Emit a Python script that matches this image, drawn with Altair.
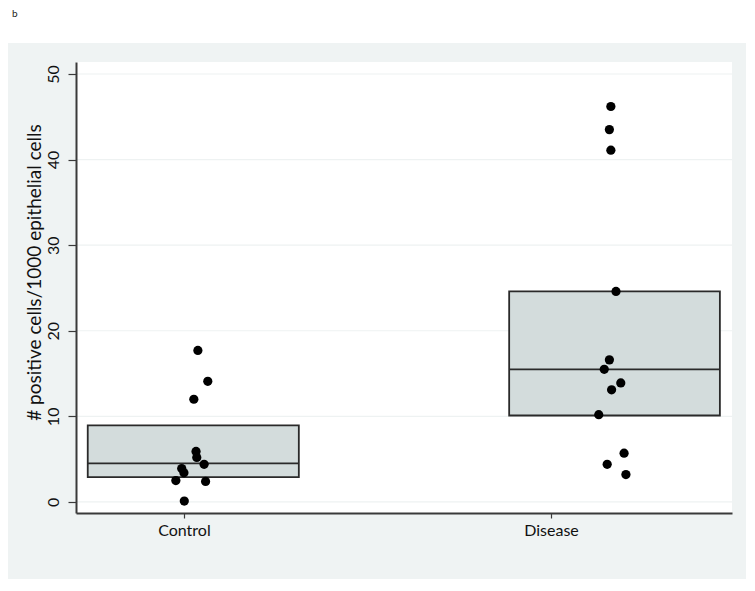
import altair as alt
import pandas as pd

# ---- data ----
categories = ["Control", "Disease"]
category_pos = [0, 1]

# box extents (x in category units, y in cells/1000)
box_left = [-0.262, 0.886]
box_right = [0.313, 1.460]
box_q1 = [2.9, 10.1]
box_median = [4.5, 15.5]
box_q3 = [8.95, 24.6]

control_y = [17.7, 14.1, 12.0, 5.9, 5.2, 4.4, 3.9, 3.4, 2.5, 2.4, 0.1]
control_x = [0.038, 0.065, 0.027, 0.033, 0.035, 0.055, -0.006, 0.0, -0.022, 0.059, 0.001]
disease_y = [46.2, 43.5, 41.1, 24.6, 16.6, 15.5, 13.9, 13.1, 10.2, 5.7, 4.4, 3.2]
disease_x = [1.163, 1.159, 1.163, 1.177, 1.159, 1.145, 1.190, 1.165, 1.130, 1.199, 1.153, 1.204]

y_ticks = [0, 10, 20, 30, 40, 50]
y_title = "# positive cells/1000 epithelial cells"
panel_label = "b"

# ---- tables ----
boxes = pd.DataFrame({
    "group": categories, "lo": box_left, "hi": box_right,
    "q1": box_q1, "med": box_median, "q3": box_q3,
})
points = pd.DataFrame({
    "group": ["Control"] * len(control_y) + ["Disease"] * len(disease_y),
    "x": control_x + disease_x,
    "y": control_y + disease_y,
})
grid = pd.DataFrame({"v": y_ticks})
one = pd.DataFrame({"t": [panel_label]})

W, H = 656, 451
FONT = "Lato"
xs = alt.Scale(domain=[-0.294, 1.493], nice=False, zero=False)
ys = alt.Scale(domain=[-1.29, 51.4], nice=False, zero=False)

label_expr = "[" + ",".join(f"'{c}'" for c in categories) + "][datum.value]"

xaxis = alt.Axis(
    values=category_pos, labelExpr=label_expr, title=None, grid=False,
    tickSize=5, tickWidth=1.2, tickColor="#3a3a3a",
    domainColor="#3a3a3a", domainWidth=2,
    labelFont=FONT, labelFontSize=16, labelColor="#111111", labelPadding=4,
    zindex=1,
)
yaxis = alt.Axis(
    values=y_ticks, title=y_title, grid=False,
    tickSize=8, tickWidth=1.2, tickColor="#3a3a3a",
    domainColor="#3a3a3a", domainWidth=2,
    labelFont=FONT, labelFontSize=16, labelColor="#111111",
    labelAngle=270, labelAlign="center", labelBaseline="bottom", labelPadding=7,
    titleFont=FONT, titleFontSize=19, titleFontWeight="normal", titleColor="#111111",
    titleAngle=270, titleAlign="center", titleBaseline="middle",
    titleX=-42, titleY=210,
    zindex=1,
)

panel = alt.Chart(one).mark_rect(color="#eff3f3").encode(
    x=alt.value(-72), x2=alt.value(672), y=alt.value(-19), y2=alt.value(524)
)
plot_bg = alt.Chart(one).mark_rect(color="#ffffff").encode(
    x=alt.value(0), x2=alt.value(W), y=alt.value(0), y2=alt.value(H)
)
grid_rules = alt.Chart(grid).mark_rule(color="#eef2f2", strokeWidth=1.2).encode(
    x=alt.value(0), x2=alt.value(W),
    y=alt.Y("v:Q", scale=ys, axis=yaxis),
)
box_rects = alt.Chart(boxes).mark_rect(
    fill="#d3dcdc", stroke="#2a2a2a", strokeWidth=1.8
).encode(
    x=alt.X("lo:Q", scale=xs, axis=xaxis),
    x2="hi:Q",
    y=alt.Y("q1:Q", scale=ys, axis=yaxis),
    y2="q3:Q",
)
medians = alt.Chart(boxes).mark_rule(color="#2a2a2a", strokeWidth=1.8).encode(
    x=alt.X("lo:Q", scale=xs, axis=xaxis), x2="hi:Q",
    y=alt.Y("med:Q", scale=ys, axis=yaxis),
)
dots = alt.Chart(points).mark_circle(color="#000000", opacity=1, size=85).encode(
    x=alt.X("x:Q", scale=xs, axis=xaxis),
    y=alt.Y("y:Q", scale=ys, axis=yaxis),
)
label_b = alt.Chart(one).mark_text(
    font=FONT, fontSize=10, color="#222222", align="left", baseline="middle"
).encode(text="t:N", x=alt.value(-64), y=alt.value(-48))

chart = alt.layer(
    panel, plot_bg, grid_rules, box_rects, medians, dots, label_b
).properties(
    width=W, height=H,
    padding={"left": 68, "top": 54, "right": 14, "bottom": 66},
    autosize=alt.AutoSizeParams(type="none"),
    background="#ffffff",
).configure_view(stroke=None, fill=None)

chart.save("out.html", embed_options={"renderer": "svg", "actions": False})
